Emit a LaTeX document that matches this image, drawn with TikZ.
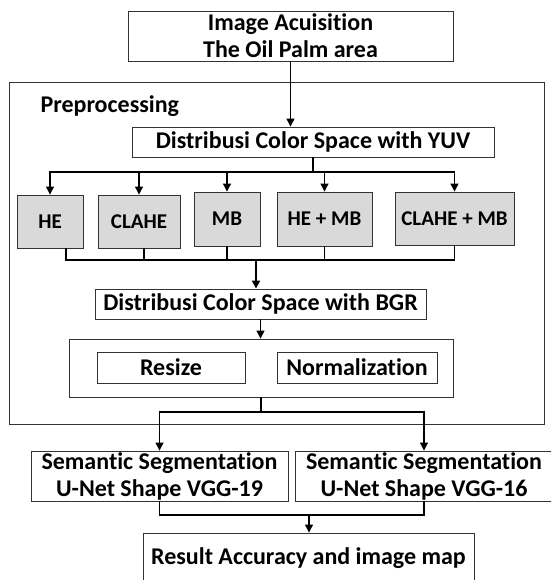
\documentclass[tikz,border=0pt]{standalone}
\usepackage{fontspec}
\setmainfont{Carlito}[Ligatures=NoCommon]
\usepackage{tikz}
\usetikzlibrary{arrows.meta}

\begin{document}
\begin{tikzpicture}[x=1pt,y=-1pt,
  font=\bfseries\fontsize{24}{27}\selectfont,
  box/.style = {draw=black!80, line width=0.9pt, fill=white, inner sep=0pt, align=center},
  gbox/.style = {box, fill=black!15, font=\bfseries\fontsize{21}{24}\selectfont},
  link/.style = {line width=1.2pt},
  arr/.style = {link, -{Triangle[length=8pt,width=8pt]}}]
  \useasboundingbox (0,0) rectangle (551,580);
  \clip (0,0) rectangle (551,580);
  % preprocessing frame
  \draw[draw=black!80, line width=0.9pt] (9,82) rectangle (544,424);
  \node[anchor=base west] (prelbl) at (37,113) {Preprocessing};
  \node[box, minimum width=325, minimum height=50] (acq) at (290.5,36) {Image Acuisition\\The Oil Palm area};
  \node[box, minimum width=362, minimum height=30] (yuv) at (313,142) {Distribusi Color Space with YUV};
  \node[gbox, minimum width=66, minimum height=53] (he) at (50,221.5) {HE};
  \node[gbox, minimum width=82, minimum height=53] (clahe) at (139,221.5) {CLAHE};
  \node[gbox, minimum width=66, minimum height=54] (mb) at (227,219) {MB};
  \node[gbox, minimum width=95, minimum height=54] (hemb) at (324.5,219) {HE + MB};
  \node[gbox, minimum width=119, minimum height=53] (clahemb) at (454.5,218.5) {CLAHE + MB};
  \node[box, minimum width=331, minimum height=30] (bgr) at (260.5,304) {Distribusi Color Space with BGR};
  \node[box, minimum width=384, minimum height=58] (inner) at (261,368) {};
  \node[box, minimum width=148, minimum height=31] (resize) at (171,367.5) {Resize};
  \node[box, minimum width=160, minimum height=31] (norm) at (357,367.5) {Normalization};
  \node[box, minimum width=257, minimum height=50] (segl) at (159.5,476) {Semantic Segmentation\\U-Net Shape VGG-19};
  \node[box, minimum width=258, minimum height=50] (segr) at (424,476) {Semantic Segmentation\\U-Net Shape VGG-16};
  \node[box, minimum width=331, minimum height=50] (res) at (308.5,558) {Result Accuracy and image map};
  \coordinate (fork) at (313,172);
  \coordinate (merge) at (256,260);
  \coordinate (split) at (261,412);
  \coordinate (join) at (309,515);
  \draw[arr] (acq.south) -- (acq.south |- yuv.north);
  \draw[link] (yuv.south) -- (fork);
  \foreach \b in {he,clahe,mb,hemb,clahemb}
    \draw[arr] (fork) -| (\b.north);
  \draw[link] ([xshift=16]he.south) |- (merge);
  \draw[link] ([xshift=5]clahe.south) |- (merge);
  \draw[link] (mb.south) |- (merge);
  \draw[link] (hemb.south) |- (merge);
  \draw[link] (clahemb.south) |- (merge);
  \draw[arr, line width=2pt] (merge) -- (merge |- bgr.north);
  \draw[arr] (bgr.south) -- (bgr.south |- inner.north);
  \draw[link] (inner.south) -- (split);
  \draw[arr] (split) -| (segl.north);
  \draw[arr] (split) -| (segr.north);
  \draw[link] (segl.south) |- (join);
  \draw[link] (segr.south) |- (join);
  \draw[arr] (join) -- (join |- res.north);
\end{tikzpicture}
\end{document}
